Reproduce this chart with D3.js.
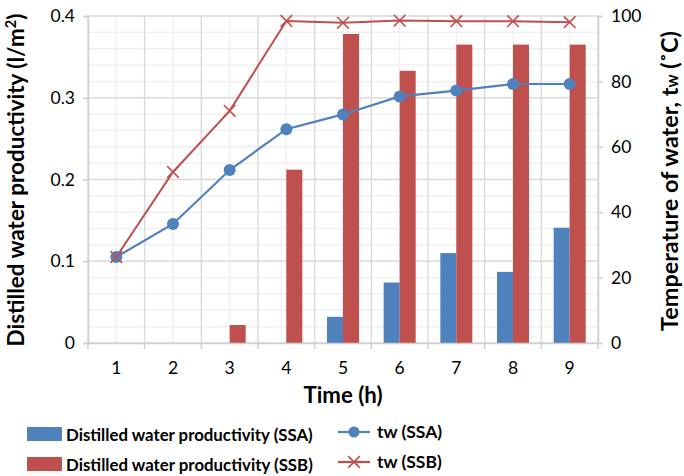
<!DOCTYPE html>
<html>
<head>
<meta charset="utf-8">
<script src="https://cdn.jsdelivr.net/npm/d3@7"></script>
<style>
  body { margin: 0; background: #fff; }
  text { font-family: Lato, "Open Sans", sans-serif; fill: #000; }
</style>
</head>
<body>
<div id="chart"></div>
<script>
var hours = [1, 2, 3, 4, 5, 6, 7, 8, 9];
var prodSSA = [0, 0, 0, 0, 0.032, 0.074, 0.110, 0.087, 0.141];
var prodSSB = [0, 0, 0.022, 0.212, 0.378, 0.333, 0.365, 0.365, 0.365];
var twSSA = [26.3, 36.4, 52.9, 65.4, 69.9, 75.4, 77.2, 79.2, 79.2];
var twSSB = [26.3, 52.3, 71.0, 98.5, 97.9, 98.6, 98.4, 98.4, 98.1];
var leftTicks = [0, 0.1, 0.2, 0.3, 0.4];
var rightTicks = [0, 20, 40, 60, 80, 100];

var width = 684, height = 476;
var margin = {left: 88, right: 86, top: 16, bottom: 133};
var x0 = margin.left, x1 = width - margin.right;
var y0 = height - margin.bottom, y1 = margin.top;

var blue = "#4F81BD", red = "#C0504D";

var svg = d3.select("#chart").append("svg")
    .attr("width", width)
    .attr("height", height);

var x = d3.scaleBand().domain(hours).range([x0, x1]).padding(0);
var yL = d3.scaleLinear().domain([0, 0.4]).range([y0, y1]);
var yR = d3.scaleLinear().domain([0, 100]).range([y0, y1]);

// minor grid lines
var grid = svg.append("g");
grid.selectAll(".hminor")
  .data(d3.range(0, 0.4001, 0.02))
  .enter().append("line")
    .attr("x1", x0).attr("x2", x1)
    .attr("y1", function(d) { return yL(d); })
    .attr("y2", function(d) { return yL(d); })
    .attr("stroke", "#f0f0f0").attr("stroke-width", 1.5);
grid.selectAll(".vminor")
  .data(hours)
  .enter().append("line")
    .attr("x1", function(d) { return x(d) + x.bandwidth() / 2; })
    .attr("x2", function(d) { return x(d) + x.bandwidth() / 2; })
    .attr("y1", y0).attr("y2", y1)
    .attr("stroke", "#f0f0f0").attr("stroke-width", 1.5);
// major grid lines
grid.selectAll(".hmajor")
  .data(leftTicks)
  .enter().append("line")
    .attr("x1", x0).attr("x2", x1)
    .attr("y1", function(d) { return yL(d); })
    .attr("y2", function(d) { return yL(d); })
    .attr("stroke", "#dcdcdc").attr("stroke-width", 1.5);
grid.selectAll(".vmajor")
  .data(hours.concat([10]))
  .enter().append("line")
    .attr("x1", function(d, i) { return x0 + i * x.bandwidth(); })
    .attr("x2", function(d, i) { return x0 + i * x.bandwidth(); })
    .attr("y1", y0).attr("y2", y1)
    .attr("stroke", "#dcdcdc").attr("stroke-width", 1.5);

// bars
var barW = 16;
var bars = svg.append("g");
bars.selectAll(".ssa")
  .data(hours)
  .enter().append("rect")
    .attr("x", function(d) { return x(d) + x.bandwidth() / 2 - barW; })
    .attr("y", function(d, i) { return yL(prodSSA[i]); })
    .attr("width", barW)
    .attr("height", function(d, i) { return y0 - yL(prodSSA[i]); })
    .attr("fill", blue);
bars.selectAll(".ssb")
  .data(hours)
  .enter().append("rect")
    .attr("x", function(d) { return x(d) + x.bandwidth() / 2; })
    .attr("y", function(d, i) { return yL(prodSSB[i]); })
    .attr("width", barW)
    .attr("height", function(d, i) { return y0 - yL(prodSSB[i]); })
    .attr("fill", red);

// axes
var axisL = svg.append("g")
    .attr("transform", "translate(" + x0 + ",0)")
    .call(d3.axisLeft(yL).tickValues(leftTicks).tickSize(5).tickPadding(8)
      .tickFormat(function(d) { return d === 0 ? "0" : d3.format(".1f")(d); }));
var axisR = svg.append("g")
    .attr("transform", "translate(" + x1 + ",0)")
    .call(d3.axisRight(yR).tickValues(rightTicks).tickSize(5).tickPadding(8));
var axisB = svg.append("g")
    .attr("transform", "translate(0," + y0 + ")")
    .call(d3.axisBottom(x).tickSize(0).tickPadding(19));
axisB.selectAll(".boundary")
  .data(hours.concat([10]))
  .enter().append("line")
    .attr("x1", function(d, i) { return x0 + i * x.bandwidth(); })
    .attr("x2", function(d, i) { return x0 + i * x.bandwidth(); })
    .attr("y1", 0).attr("y2", 6)
    .attr("stroke", "#d0d0d0").attr("stroke-width", 1.5);
[axisL, axisR, axisB].forEach(function(a) {
  a.select(".domain").attr("stroke", "#d0d0d0").attr("stroke-width", 1.5);
  a.selectAll(".tick line").attr("stroke", "#d0d0d0").attr("stroke-width", 1.5);
  a.selectAll(".tick text").style("font-family", "Lato, sans-serif")
    .style("font-size", "17.5px").attr("fill", "#000");
});

// lines
var lineA = d3.line()
    .x(function(d, i) { return x(hours[i]) + x.bandwidth() / 2; })
    .y(function(d) { return yR(d); });
svg.append("path").datum(twSSA)
    .attr("d", lineA).attr("fill", "none")
    .attr("stroke", blue).attr("stroke-width", 2.2);
svg.append("path").datum(twSSB)
    .attr("d", lineA).attr("fill", "none")
    .attr("stroke", red).attr("stroke-width", 2);
svg.append("g").selectAll("circle")
  .data(twSSA)
  .enter().append("circle")
    .attr("cx", function(d, i) { return x(hours[i]) + x.bandwidth() / 2; })
    .attr("cy", function(d) { return yR(d); })
    .attr("r", 6).attr("fill", blue);
var cross = d3.symbol().type(d3.symbolX).size(90);
svg.append("g").selectAll("path")
  .data(twSSB)
  .enter().append("path")
    .attr("d", cross)
    .attr("transform", function(d, i) {
      return "translate(" + (x(hours[i]) + x.bandwidth() / 2) + "," + yR(d) + ")";
    })
    .attr("fill", "none").attr("stroke", red).attr("stroke-width", 1.6);

// shrink/grow a title so it covers about the same length as the original
function fit(t, target) {
  var len = t.node().getComputedTextLength();
  var fs = parseFloat(t.style("font-size"));
  t.style("font-size", (fs * target / len) + "px");
}

// axis titles
var lt = svg.append("text")
    .attr("transform", "translate(24,180) rotate(-90)")
    .attr("text-anchor", "middle")
    .style("font-size", "19px").style("font-weight", "bold")
    .html("Distilled water productivity (l/m<tspan baseline-shift='super' font-size='0.65em'>2</tspan>)");
fit(lt, 333);
var rt = svg.append("text")
    .attr("transform", "translate(678,181) rotate(-90)")
    .attr("text-anchor", "middle")
    .style("font-size", "19px").style("font-weight", "bold");
rt.append("tspan").text("Temperature of water, t");
rt.append("tspan").attr("font-size", "0.7em").text("w");
rt.append("tspan").text(" (\u02DAC)");
fit(rt, 300);
var xt = svg.append("text")
    .attr("x", (x0 + x1) / 2).attr("y", 403)
    .attr("text-anchor", "middle")
    .style("font-size", "20px").style("font-weight", "bold")
    .text("Time (h)");
fit(xt, 79);

// legend
var legBars = [{label: "Distilled water productivity (SSA)", color: blue},
               {label: "Distilled water productivity (SSB)", color: red}];
var leg = svg.append("g");
legBars.forEach(function(d, i) {
  var yy = 427 + i * 30;
  leg.append("rect").attr("x", 27).attr("y", yy).attr("width", 35).attr("height", 14).attr("fill", d.color);
  var t = leg.append("text").attr("x", 66).attr("y", yy + 14)
    .style("font-size", "17px").style("font-weight", "bold").text(d.label);
  fit(t, 247);
});
var legLines = [{label: "tw (SSA)", color: blue, mark: "circle"},
                {label: "tw (SSB)", color: red, mark: "x"}];
legLines.forEach(function(d, i) {
  var yy = 432 + i * 30;
  leg.append("line").attr("x1", 338).attr("x2", 370).attr("y1", yy).attr("y2", yy)
    .attr("stroke", d.color).attr("stroke-width", 2.2);
  if (d.mark === "circle") {
    leg.append("circle").attr("cx", 354).attr("cy", yy).attr("r", 5.5).attr("fill", d.color);
  } else {
    leg.append("path").attr("d", cross).attr("transform", "translate(354," + yy + ")")
      .attr("fill", "none").attr("stroke", d.color).attr("stroke-width", 1.6);
  }
  leg.append("text").attr("x", 377).attr("y", yy + 6)
    .style("font-size", "17.5px").style("font-weight", "bold").text(d.label);
});
</script>
</body>
</html>
